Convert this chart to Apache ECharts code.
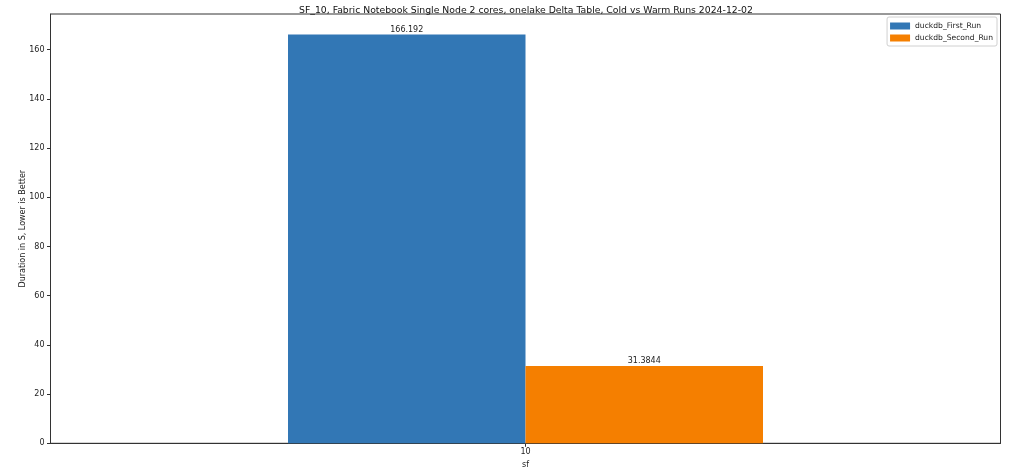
<!DOCTYPE html>
<html>
<head>
<meta charset="utf-8">
<script src="https://cdn.jsdelivr.net/npm/echarts@6/dist/echarts.min.js"></script>
<style>html,body{margin:0;padding:0;background:#fff}#c{width:1022px;height:476px}</style>
</head>
<body>
<div id="c"></div>
<script>
const categories = ['10'];
const firstRun = [166.192];
const secondRun = [31.3844];
const seriesNames = ['duckdb_First_Run', 'duckdb_Second_Run'];
const yTicks = [0, 20, 40, 60, 80, 100, 120, 140, 160];

const font = 'DejaVu Sans';
const chart = echarts.init(document.getElementById('c'), null, {renderer: 'canvas'});
chart.setOption({
  animation: false,
  backgroundColor: '#fff',
  textStyle: {fontFamily: font},
  title: {
    text: 'SF_10, Fabric Notebook Single Node 2 cores, onelake Delta Table, Cold vs Warm Runs 2024-12-02',
    left: 294, top: 1,
    textStyle: {fontFamily: font, fontSize: 9.3, fontWeight: 'normal', color: '#111'}
  },
  legend: {
    orient: 'vertical', right: 25, top: 17,
    itemWidth: 20, itemHeight: 7, itemGap: 4,
    padding: [5, 4, 4, 3],
    borderColor: '#d0d0d0', borderWidth: 1, borderRadius: 2,
    textStyle: {fontFamily: font, fontSize: 7.6, color: '#222'},
    data: seriesNames.map(n => ({name: n, icon: 'rect'}))
  },
  grid: {left: 50.5, right: 21.5, top: 14, bottom: 32.7, show: true, borderColor: '#333', borderWidth: 1},
  xAxis: {
    type: 'category', data: categories,
    name: 'sf', nameLocation: 'middle', nameGap: 17,
    nameTextStyle: {fontFamily: font, fontSize: 8, color: '#222'},
    axisLine: {show: true, lineStyle: {color: '#333'}},
    axisTick: {show: true, alignWithLabel: true, length: 3.5, lineStyle: {color: '#333'}},
    axisLabel: {fontFamily: font, fontSize: 8, color: '#222', margin: 5}
  },
  yAxis: {
    type: 'value', min: 0, max: 174.5,
    name: 'Duration in S, Lower is Better', nameLocation: 'middle', nameGap: 24, nameMoveOverlap: false,
    nameTextStyle: {fontFamily: font, fontSize: 8, color: '#222'},
    splitLine: {show: false},
    axisLine: {show: true, lineStyle: {color: '#333'}},
    axisTick: {show: true, length: 3.5, lineStyle: {color: '#333'}, customValues: yTicks},
    axisLabel: {fontFamily: font, fontSize: 8, color: '#222', margin: 6, customValues: yTicks}
  },
  series: [
    {name: seriesNames[0], type: 'bar', data: firstRun, barWidth: '25%', barGap: '0%',
     itemStyle: {color: '#3277b5'},
     label: {show: true, position: 'top', distance: 1, fontFamily: font, fontSize: 8, color: '#222'}},
    {name: seriesNames[1], type: 'bar', data: secondRun, barWidth: '25%', barGap: '0%',
     itemStyle: {color: '#f57f00'},
     label: {show: true, position: 'top', distance: 1, fontFamily: font, fontSize: 8, color: '#222'}}
  ]
});
</script>
</body>
</html>
